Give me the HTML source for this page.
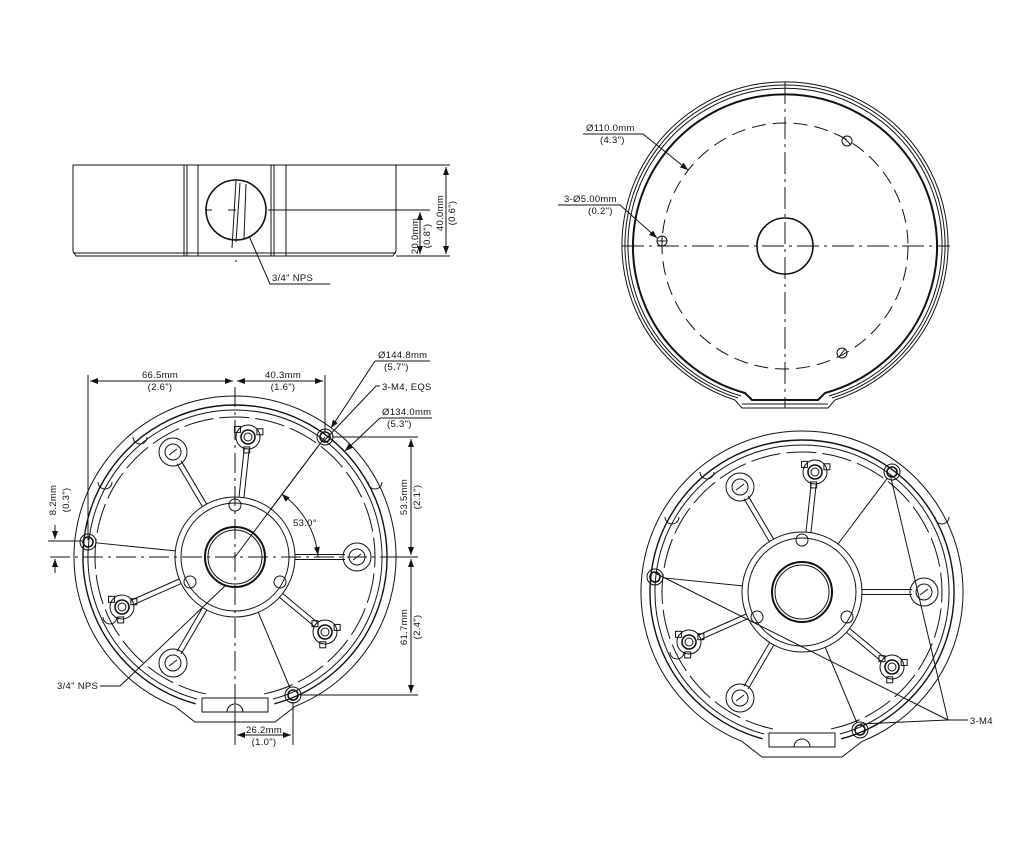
<!DOCTYPE html>
<html><head><meta charset="utf-8"><style>
html,body{margin:0;padding:0;background:#fff;width:1024px;height:844px;overflow:hidden}
svg{display:block}
text{font-family:"Liberation Sans",sans-serif;font-size:9.5px;fill:#111;stroke:none;letter-spacing:0.3px}
</style></head><body>
<svg id="s" width="1024" height="844" viewBox="0 0 1024 844" xmlns="http://www.w3.org/2000/svg" fill="none" stroke="#111" stroke-width="1">
<defs>
<marker id="a" markerWidth="8" markerHeight="6" refX="8" refY="3" orient="auto" markerUnits="userSpaceOnUse"><path d="M0,0 L8,3 L0,6 z" fill="#111" stroke="none"/></marker>
<marker id="b" markerWidth="8" markerHeight="6" refX="0" refY="3" orient="auto" markerUnits="userSpaceOnUse"><path d="M8,0 L0,3 L8,6 z" fill="#111" stroke="none"/></marker>
</defs>

<g>
<path d="M73,165 H396 V251 L393,256 H76 L73,251 Z"/>
<line x1="73" y1="253" x2="396" y2="253"/>
<line x1="184" y1="165" x2="184" y2="256"/><line x1="187" y1="165" x2="187" y2="256"/><line x1="198" y1="165" x2="198" y2="256"/>
<line x1="271" y1="165" x2="271" y2="256"/><line x1="274" y1="165" x2="274" y2="256"/><line x1="286" y1="165" x2="286" y2="256"/>
<circle cx="236" cy="210" r="30" stroke-width="1.6"/>
<path d="M236,181 L232,248 M240,183 L236,242 M246,184 L244,238" />
<line x1="205" y1="210" x2="212" y2="210"/><line x1="228" y1="210" x2="236" y2="210"/><line x1="268" y1="210" x2="430" y2="210"/>
<line x1="236" y1="260" x2="236" y2="262"/>
<line x1="396" y1="165" x2="450" y2="165"/><line x1="396" y1="256" x2="450" y2="256"/>
<line x1="446" y1="167" x2="446" y2="254" marker-start="url(#b)" marker-end="url(#a)"/>
<line x1="420" y1="212" x2="420" y2="254" marker-start="url(#b)" marker-end="url(#a)"/>
<path d="M249,236 L270,284 H330"/>
<text x="272" y="281">3/4" NPS</text>
<text transform="translate(443,213) rotate(-90)" text-anchor="middle">40.0mm</text>
<text transform="translate(455,213) rotate(-90)" text-anchor="middle">(0.6")</text>
<text transform="translate(418,236) rotate(-90)" text-anchor="middle">20.0mm</text>
<text transform="translate(430,236) rotate(-90)" text-anchor="middle">(0.8")</text>
</g>

<g>
<path d="M735,400 A163,163 0 1 1 835,400 L828,408 H742 Z"/>
<path d="M738,398 A160,160 0 1 1 832,398"/>
<path d="M741,396 A157,157 0 1 1 829,396"/>
<path d="M745,393 A152,152 0 1 1 825,393 L818,400 H752 Z" stroke-width="2"/>
<line x1="742" y1="404" x2="828" y2="404"/>
<circle cx="785" cy="246" r="123" stroke-dasharray="14,7"/>
<circle cx="785" cy="246" r="28" stroke-width="1.6"/>
<line x1="785" y1="82" x2="785" y2="408" stroke-dasharray="22,5,3,5"/>
<line x1="622" y1="246" x2="950" y2="246" stroke-dasharray="22,5,3,5"/>
<circle cx="662" cy="241" r="5"/><line x1="657" y1="241" x2="667" y2="241"/><line x1="662" y1="236" x2="662" y2="246"/>
<circle cx="847" cy="141" r="5"/><line x1="843" y1="137" x2="851" y2="145"/>
<circle cx="842" cy="353" r="5"/><line x1="839" y1="357" x2="845" y2="349"/>
<path d="M583,134 H643 L688,170" marker-end="url(#a)"/>
<path d="M558,205 H620 L657,238" marker-end="url(#a)"/>
<text x="586" y="131">Ø110.0mm</text><text x="600" y="143">(4.3")</text>
<text x="564" y="202">3-Ø5.00mm</text><text x="588" y="214">(0.2")</text>
</g>

<g id="bl"></g>
<g id="br"></g>

<g>
<line x1="88" y1="375" x2="88" y2="540"/>
<line x1="325" y1="375" x2="325" y2="432"/>
<line x1="90" y1="381" x2="233" y2="381" marker-start="url(#b)" marker-end="url(#a)"/>
<line x1="237" y1="381" x2="323" y2="381" marker-start="url(#b)" marker-end="url(#a)"/>
<text x="160" y="378" text-anchor="middle">66.5mm</text><text x="160" y="390" text-anchor="middle">(2.6")</text>
<text x="283" y="378" text-anchor="middle">40.3mm</text><text x="283" y="390" text-anchor="middle">(1.6")</text>
<line x1="332" y1="437" x2="418" y2="437"/><line x1="398" y1="557" x2="418" y2="557"/><line x1="300" y1="695" x2="418" y2="695"/>
<line x1="411" y1="439" x2="411" y2="555" marker-start="url(#b)" marker-end="url(#a)"/>
<line x1="411" y1="559" x2="411" y2="693" marker-start="url(#b)" marker-end="url(#a)"/>
<text transform="translate(407,497) rotate(-90)" text-anchor="middle">53.5mm</text>
<text transform="translate(420,497) rotate(-90)" text-anchor="middle">(2.1")</text>
<text transform="translate(407,627) rotate(-90)" text-anchor="middle">61.7mm</text>
<text transform="translate(420,627) rotate(-90)" text-anchor="middle">(2.4")</text>
<line x1="48" y1="541" x2="82" y2="541"/>
<line x1="55" y1="525" x2="55" y2="539" marker-end="url(#a)"/>
<line x1="55" y1="573" x2="55" y2="559" marker-end="url(#a)"/>
<text transform="translate(56,500) rotate(-90)" text-anchor="middle">8.2mm</text>
<text transform="translate(69,500) rotate(-90)" text-anchor="middle">(0.3")</text>
<line x1="235" y1="705" x2="235" y2="745"/><line x1="293" y1="702" x2="293" y2="745"/>
<line x1="237" y1="735" x2="291" y2="735" marker-start="url(#b)" marker-end="url(#a)"/>
<text x="264" y="733" text-anchor="middle">26.2mm</text><text x="264" y="745" text-anchor="middle">(1.0")</text>
<path d="M375,361 H430"/><line x1="375" y1="361" x2="331" y2="428" marker-end="url(#a)"/>
<path d="M380,386 H376 L324,441"/>
<path d="M380,418 H432"/><line x1="380" y1="418" x2="345" y2="451" marker-end="url(#a)"/>
<text x="378" y="358">Ø144.8mm</text><text x="384" y="370">(5.7")</text>
<text x="382" y="390">3-M4, EQS</text>
<text x="382" y="415">Ø134.0mm</text><text x="387" y="427">(5.3")</text>
<path d="M283,495 A85,85 0 0 1 318,557" />
<line x1="286" y1="498" x2="282" y2="494" marker-end="url(#a)"/>
<line x1="317" y1="548" x2="318" y2="555" marker-end="url(#a)"/>
<text x="293" y="526">53.0°</text>
<path d="M100,686 H120 L226,585"/>
<text x="57" y="689">3/4" NPS</text>
<path d="M968,720 H948 L890,474 M948,720 L655,573 M948,720 L860,724"/>
<text x="970" y="724">3-M4</text>
</g>
</svg>
<script>
function view(id,cx,cy,dims){
 var g=document.getElementById(id),h='';
 var P=function(a,r){var t=a*Math.PI/180;return [cx+r*Math.cos(t),cy-r*Math.sin(t)];};
 function arc(r,s,e){var p=P(s,r),q=P(e,r);return 'M'+p[0]+','+p[1]+' A'+r+','+r+' 0 1 0 '+q[0]+','+q[1];}
 h+='<path d="'+arc(161,-68,-112)+'"/>';
 var p1=P(-112,161),p2=P(-68,161);
 h+='<path d="M'+p1[0]+','+p1[1]+' L'+(cx-40)+','+(cy+165)+' H'+(cx+40)+' L'+p2[0]+','+p2[1]+'"/>';
 h+='<path d="'+arc(152,-75,-105)+'" stroke-width="1.4"/>';
 h+='<path d="'+arc(147,-75,-105)+'"/>';
 h+='<path d="'+arc(140,-78,-102)+'" stroke-dasharray="30,6"/>';
 h+='<rect x="'+(cx-33)+'" y="'+(cy+141)+'" width="66" height="14"/>';
 h+='<path d="M'+(cx-8)+','+(cy+155)+' A8,8 0 0 1 '+(cx+8)+','+(cy+155)+'"/>';
 h+='<circle cx="'+cx+'" cy="'+cy+'" r="60"/><circle cx="'+cx+'" cy="'+cy+'" r="54"/>';
 h+='<circle cx="'+cx+'" cy="'+cy+'" r="30" stroke-width="2"/><circle cx="'+cx+'" cy="'+cy+'" r="27"/>';
 var star=[[13,-120],[-113,50],[90,75]],circ=[[-62,-105],[122,0],[-62,106]],hole=[[90,-120],[-147,-15],[58,138]];
 function spoke(x,y){var d=Math.hypot(x,y),ux=x/d,uy=y/d,nx=-uy*2.5,ny=ux*2.5;
  var s=[cx+ux*60,cy+uy*60],e=[cx+x-ux*12,cy+y-uy*12];
  h+='<line x1="'+(s[0]+nx)+'" y1="'+(s[1]+ny)+'" x2="'+(e[0]+nx)+'" y2="'+(e[1]+ny)+'"/>';
  h+='<line x1="'+(s[0]-nx)+'" y1="'+(s[1]-ny)+'" x2="'+(e[0]-nx)+'" y2="'+(e[1]-ny)+'"/>';}
 star.forEach(function(o){spoke(o[0],o[1]);var x=cx+o[0],y=cy+o[1];
  h+='<circle cx="'+x+'" cy="'+y+'" r="12"/><circle cx="'+x+'" cy="'+y+'" r="7" stroke-width="1.6"/><circle cx="'+x+'" cy="'+y+'" r="4"/>';
  for(var k=0;k<3;k++){var t=Math.atan2(o[1],o[0])+k*2.09+1.05;h+='<rect x="'+(x+Math.cos(t)*13-3)+'" y="'+(y+Math.sin(t)*13-3)+'" width="6" height="6"/>';}});
 circ.forEach(function(o){spoke(o[0],o[1]);var x=cx+o[0],y=cy+o[1];
  h+='<circle cx="'+x+'" cy="'+y+'" r="14"/><circle cx="'+x+'" cy="'+y+'" r="8"/><line x1="'+(x-4)+'" y1="'+(y+3)+'" x2="'+(x+4)+'" y2="'+(y-3)+'"/>';});
 hole.forEach(function(o){var x=cx+o[0],y=cy+o[1];
  h+='<circle cx="'+x+'" cy="'+y+'" r="8"/><circle cx="'+x+'" cy="'+y+'" r="5" stroke-width="1.6"/>';
  var d=Math.hypot(o[0],o[1]);h+='<line x1="'+(cx+o[0]/d*60)+'" y1="'+(cy+o[1]/d*60)+'" x2="'+(x-o[0]/d*8)+'" y2="'+(y-o[1]/d*8)+'"/>';});
 [[0,-52],[-45,25],[45,25]].forEach(function(o){h+='<circle cx="'+(cx+o[0])+'" cy="'+(cy+o[1])+'" r="6"/>';});
 [[-130,-75],[-125,60],[140,-75],[-95,-120]].forEach(function(o){h+='<path d="M'+(cx+o[0]-7)+','+(cy+o[1])+' a7,7 0 1 0 14,0"/>';});
 if(dims){h+='<line x1="'+cx+'" y1="'+(cy-170)+'" x2="'+cx+'" y2="'+(cy+185)+'" stroke-dasharray="20,5,3,5"/>';
  h+='<line x1="'+(cx-185)+'" y1="'+cy+'" x2="'+(cx+175)+'" y2="'+cy+'" stroke-dasharray="20,5,3,5"/>';
  h+='<line x1="'+cx+'" y1="'+cy+'" x2="'+(cx+90)+'" y2="'+(cy-120)+'"/>';}
 g.innerHTML=h;
}
view('bl',235,557,true);
view('br',802,592,false);
</script>
</body></html>
